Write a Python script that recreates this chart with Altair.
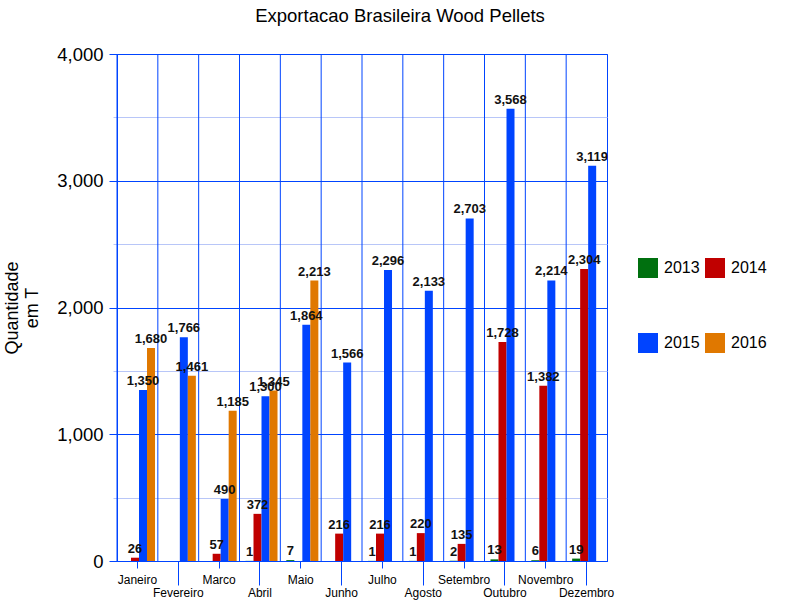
import altair as alt
import pandas as pd

months = ["Janeiro", "Fevereiro", "Marco", "Abril", "Maio", "Junho",
          "Julho", "Agosto", "Setembro", "Outubro", "Novembro", "Dezembro"]
years = ["2013", "2014", "2015", "2016"]
v2013 = [None, None, None, 1, 7, None, 1, 1, 2, 13, 6, 19]
v2014 = [26, None, 57, 372, None, 216, 216, 220, 135, 1728, 1382, 2304]
v2015 = [1350, 1766, 490, 1300, 1864, 1566, 2296, 2133, 2703, 3568, 2214, 3119]
v2016 = [1680, 1461, 1185, 1345, 2213, None, None, None, None, None, None, None]
colors = ["#00700f", "#c00000", "#0044ff", "#e07800"]
even_months = ["Fevereiro", "Abril", "Junho", "Agosto", "Outubro", "Dezembro"]

rows = []
for y, vals in zip(years, [v2013, v2014, v2015, v2016]):
    for m, v in zip(months, vals):
        if v is not None:
            rows.append({"month": m, "year": y, "value": v})
df = pd.DataFrame(rows)
grid_df = pd.DataFrame({"month": months})

blue = "#0044ff"
light = "#b8c6f8"
font = "Liberation Sans"

even_test = "indexof(" + str(even_months) + ", datum.value) >= 0"

xscale = alt.Scale(domain=months, paddingInner=0, paddingOuter=0)
xaxis = alt.Axis(labelAngle=0, labelFontSize=12, labelFont=font,
                 labelColor="#000000", domainColor=blue, tickColor=blue,
                 grid=False, title=None,
                 tickSize={"condition": {"test": even_test, "value": 24}, "value": 7},
                 labelPadding={"condition": {"test": even_test, "value": 2}, "value": 6})
xoff = alt.XOffset("year:N", scale=alt.Scale(domain=years, paddingInner=0,
                                             paddingOuter=0.55, align=0.68))
yscale = alt.Scale(domain=[0, 4000], nice=False)

vgrid = alt.Chart(grid_df).mark_rule(color=blue, strokeWidth=1).encode(
    x=alt.X("month:N", scale=xscale, bandPosition=0, axis=xaxis, title=None)
)

bars = alt.Chart(df).mark_bar().encode(
    x=alt.X("month:N", scale=xscale, title=None, axis=xaxis),
    xOffset=xoff,
    y=alt.Y("value:Q", scale=yscale,
            title=["Quantidade", "em T"],
            axis=alt.Axis(values=list(range(0, 4001, 500)),
                          labelExpr="datum.value % 1000 === 0 ? format(datum.value, ',') : ''",
                          labelFontSize=18.5, labelFont=font, labelColor="#000000",
                          titleFontSize=18, titleFont=font, titleFontWeight="normal",
                          titleColor="#000000", titlePadding=15,
                          domainColor=blue,
                          gridColor={"condition": {"test": "datum.value % 1000 === 0", "value": blue}, "value": light},
                          tickColor={"condition": {"test": "datum.value % 1000 === 0", "value": blue}, "value": light},
                          tickSize={"condition": {"test": "datum.value % 1000 === 0", "value": 8}, "value": 4},
                          labelPadding=6)),
    color=alt.Color("year:N", scale=alt.Scale(domain=years, range=colors),
                    legend=alt.Legend(title=None, orient="none", legendX=521, legendY=204,
                                      columns=2, direction="horizontal",
                                      symbolType="square", symbolSize=400,
                                      symbolStrokeWidth=0, labelFontSize=16, labelFont=font,
                                      labelColor="#000000", rowPadding=55, columnPadding=5,
                                      labelOffset=6)),
)

labels = alt.Chart(df).mark_text(baseline="bottom", dy=-2, fontSize=13,
                                 fontWeight="bold", font=font, color="#111111").encode(
    x=alt.X("month:N", scale=xscale, axis=xaxis),
    xOffset=xoff,
    y=alt.Y("value:Q", scale=yscale),
    text=alt.Text("value:Q", format=","),
)

chart = alt.layer(vgrid, bars, labels).properties(
    width=490, height=507,
    title=alt.TitleParams("Exportacao Brasileira Wood Pellets", fontSize=18.5,
                          font=font, fontWeight="normal", color="#000000",
                          dx=38, offset=20),
    autosize=alt.AutoSizeParams(type="none"),
    padding={"left": 117, "top": 54, "right": 192, "bottom": 50},
).configure_view(stroke=blue, strokeWidth=1)

chart.save("out.html", embed_options={"renderer": "svg", "actions": False})
